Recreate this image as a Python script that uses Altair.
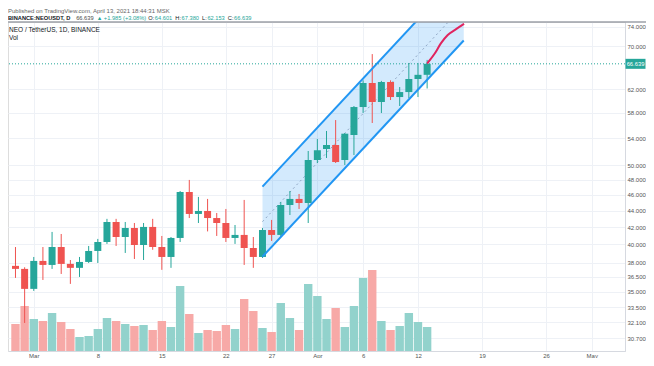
import altair as alt
import pandas as pd

# ---------------- data ----------------
dates = pd.date_range("2021-02-27", "2021-04-13", freq="D").strftime("%Y-%m-%d").tolist()
opens = [37.65, 37.33, 35.28, 38.18, 37.75, 39.71, 37.86, 37.44, 38.07, 39.27,
         40.28, 42.62, 40.85, 41.90, 39.94, 42.03, 39.71, 38.61, 40.74, 46.39,
         43.60, 43.97, 43.10, 42.50, 40.74, 41.09, 39.60, 38.61, 41.67, 41.09,
         44.72, 45.49, 44.97, 50.78, 52.38, 52.98, 50.78, 54.50, 58.98, 63.12,
         59.82, 63.30, 60.67, 61.53, 63.84, 64.601]
highs = [39.71, 37.50, 38.61, 39.71, 41.44, 41.20, 38.28, 38.61, 39.83, 40.63,
         43.00, 43.00, 42.62, 42.50, 42.50, 43.00, 40.97, 40.85, 46.52, 48.00,
         45.75, 45.49, 43.72, 44.22, 42.26, 45.36, 40.85, 41.90, 42.87, 45.10,
         46.52, 46.13, 52.09, 53.89, 55.12, 56.85, 54.80, 59.15, 63.60, 68.50,
         63.50, 63.60, 62.41, 66.80, 66.80, 67.380]
lows = [36.39, 32.04, 35.08, 36.18, 37.33, 36.80, 35.78, 36.49, 37.96, 37.96,
        40.06, 39.83, 39.05, 38.39, 38.28, 39.40, 37.23, 37.44, 40.28, 43.10,
        42.50, 41.50, 40.97, 40.28, 40.06, 37.75, 37.44, 38.50, 40.40, 40.85,
        43.47, 44.22, 42.50, 50.35, 51.07, 50.35, 50.07, 51.50, 58.00, 56.38,
        57.99, 60.16, 59.15, 60.50, 60.67, 62.153]
closes = [37.33, 35.28, 38.18, 37.75, 39.71, 37.86, 37.44, 38.07, 39.27, 40.28,
          42.62, 40.85, 41.90, 39.94, 42.03, 39.71, 38.61, 40.74, 46.39, 43.60,
          43.97, 43.10, 42.50, 40.74, 41.09, 39.60, 38.61, 41.67, 41.09, 44.72,
          45.49, 44.97, 50.78, 52.20, 52.98, 50.49, 54.70, 58.98, 63.12, 59.82,
          63.30, 60.67, 61.53, 63.84, 64.60, 66.639]
volumes = [2.7, 4.5, 3.2, 3.0, 3.8, 2.9, 2.2, 1.4, 1.5, 2.2,
           3.3, 3.0, 2.7, 2.5, 2.6, 2.1, 3.0, 2.4, 6.5, 3.7,
           1.8, 2.1, 2.0, 2.6, 2.2, 5.2, 4.0, 2.3, 1.9, 4.8,
           3.3, 2.1, 6.7, 5.5, 3.2, 4.3, 2.4, 4.5, 7.3, 8.1,
           3.0, 2.1, 2.5, 3.8, 2.9, 2.4]

# parallel channel (drawing)
channel_dates = ["2021-03-26", "2021-04-17"]
channel_lower = [38.64, 71.19]
channel_upper = [47.10, 86.80]
channel_mid = [42.66, 78.60]

# projected path (red line)
path_times = ["2021-04-13T00:00:00Z", "2021-04-13T20:00:00Z", "2021-04-14T12:00:00Z",
              "2021-04-15T06:00:00Z", "2021-04-16T04:00:00Z", "2021-04-17T01:00:00Z"]
path_values = [66.70, 68.60, 70.60, 72.30, 73.50, 74.60]

last_price = 66.639
price_ticks = [30.7, 32.1, 33.5, 35.0, 36.5, 38.0, 40.0, 42.0, 44.0, 46.0, 48.0,
               50.0, 54.0, 58.0, 62.0, 70.0, 74.0]
date_ticks = [(3, 1), (3, 8), (3, 15), (3, 22), (3, 27), (4, 1), (4, 6), (4, 12),
              (4, 19), (4, 26), (5, 1)]

published = "Published on TradingView.com, April 13, 2021 18:44:31 MSK"
legend_segments = [
    ("BINANCE:NEOUSDT, D", "#131722", "bold", 3.0),
    ("66.639", "#4a4a4a", "normal", 3.0),
    ("\u25b2 +1.985 (+3.08%)", "#26a69a", "normal", 3.0),
    ("O:", "#131722", "normal", 0.6), ("64.601", "#26a69a", "normal", 3.0),
    ("H:", "#131722", "normal", 0.6), ("67.380", "#26a69a", "normal", 3.0),
    ("L:", "#131722", "normal", 0.6), ("62.153", "#26a69a", "normal", 3.0),
    ("C:", "#131722", "normal", 0.6), ("66.639", "#26a69a", "normal", 0.0),
]
pane_title = "NEO / TetherUS, 1D, BINANCE"
vol_title = "Vol"

# ---------------- tables ----------------
df = pd.DataFrame({"date": dates, "open": opens, "high": highs, "low": lows,
                   "close": closes, "vol": volumes})
ch = pd.DataFrame({"date": channel_dates, "lower": channel_lower,
                   "upper": channel_upper, "mid": channel_mid})
fp = pd.DataFrame({"date": path_times, "v": path_values})
lp = pd.DataFrame({"p": [last_price], "t": [f"{last_price:.3f}"]})

FONT = "Liberation Sans"
UP, DOWN = "#26a69a", "#ef5350"
GRID = "#eef1f6"

xscale = alt.Scale(type="utc", domain=[
    alt.DateTime(year=2021, month=2, date=26, hours=17, minutes=30, utc=True),
    alt.DateTime(year=2021, month=5, date=4, hours=2, utc=True)])
xaxis = alt.Axis(values=[alt.DateTime(year=2021, month=m, date=d, utc=True) for m, d in date_ticks],
                 labelExpr="utcdate(datum.value) == 1 ? utcFormat(datum.value, '%b') : '' + utcdate(datum.value)",
                 title=None, ticks=False, labelPadding=1, labelFontSize=6, labelColor="#555",
                 labelBaseline="top", labelFont=FONT, grid=True, gridColor=GRID,
                 domainColor="#d6d9e0", labelFlush=False, labelOverlap=False)
yscale = alt.Scale(type="log", domain=[29.6, 75.0], nice=False)
yaxis = alt.Axis(orient="right", values=price_ticks, format=".3f", title=None, ticks=False,
                 labelPadding=2, labelFontSize=6, labelColor="#555", labelFont=FONT,
                 grid=True, gridColor=GRID, domainColor="#d6d9e0", labelOverlap=False,
                 labelFlush=False)


def X(field="date"):
    return alt.X(f"{field}:T", scale=xscale, axis=xaxis)


def Y(field):
    return alt.Y(f"{field}:Q", scale=yscale, axis=yaxis)


updown = alt.condition("datum.close >= datum.open", alt.value(UP), alt.value(DOWN))
updown_vol = alt.condition("datum.close >= datum.open", alt.value("#92d2cc"), alt.value("#f7a9a7"))

vol = alt.Chart(df).mark_bar(size=8.4).encode(
    x=X(), y=alt.Y("vol:Q", scale=alt.Scale(domain=[0, 32.9]), axis=None), color=updown_vol)

area = alt.Chart(ch).mark_area(color="#2196f3", opacity=0.2, clip=True).encode(
    x=X(), y=Y("upper"), y2="lower:Q")
lower_line = alt.Chart(ch).mark_line(color="#2196f3", strokeWidth=2, clip=True).encode(
    x=X(), y=Y("lower"))
upper_line = alt.Chart(ch).mark_line(color="#2196f3", strokeWidth=2, clip=True).encode(
    x=X(), y=Y("upper"))
mid_line = alt.Chart(ch).mark_line(color="#8fa6c4", strokeWidth=1, strokeDash=[2, 3], clip=True).encode(
    x=X(), y=Y("mid"))

wicks = alt.Chart(df).mark_rule(strokeWidth=1).encode(x=X(), y=Y("low"), y2="high:Q", color=updown)
bodies = alt.Chart(df).mark_bar(size=7).encode(x=X(), y=Y("open"), y2="close:Q", color=updown)

path = alt.Chart(fp).mark_line(color="#e0245e", strokeWidth=2, interpolate="monotone", clip=True).encode(
    x=X(), y=Y("v"))

price_rule = alt.Chart(lp).mark_rule(color=UP, strokeDash=[1, 2], strokeWidth=1).encode(y=Y("p"))
price_box = alt.Chart(lp).mark_rect(color=UP, height=10).encode(
    x=alt.value(617.5), x2=alt.value(637.5), y=Y("p"))
price_txt = alt.Chart(lp).mark_text(color="white", fontSize=5.8, font=FONT, align="center",
                                    baseline="middle").encode(x=alt.value(627.5), y=Y("p"), text="t:N")

price = alt.layer(area, mid_line, wicks, bodies, lower_line, upper_line, path,
                  price_rule, price_box, price_txt)
main = alt.layer(vol, price).resolve_scale(y="independent")

# approximate glyph widths (em) for laying out the legend line
W = {**{d: 0.556 for d in "0123456789"}, ".": 0.278, ":": 0.278, " ": 0.278, "+": 0.584,
     "(": 0.333, ")": 0.333, "%": 0.889, ",": 0.278, "O": 0.778, "H": 0.722, "L": 0.556,
     "C": 0.722, "\u25b2": 0.8, "B": 0.722, "I": 0.278, "N": 0.722, "A": 0.722, "E": 0.667,
     "U": 0.722, "S": 0.667, "D": 0.722, "T": 0.611}


def label(text, x, y, size=6, color="#131722", weight="normal"):
    return alt.Chart(pd.DataFrame({"t": [text]})).mark_text(
        align="left", baseline="alphabetic", fontSize=size, font=FONT, color=color,
        fontWeight=weight).encode(x=alt.value(x), y=alt.value(y), text="t:N")


LEG = 5.7
texts = [label(published, 0, -9, 6, "#666")]
cx = 0.0
for t, c, w, gap in legend_segments:
    texts.append(label(t, cx, -2, LEG, c, w))
    cx += sum(W.get(ch_, 0.6) for ch_ in t) * LEG * (1.04 if w == "bold" else 1.0) + gap
texts += [label(pane_title, 1, 9.5, 6.5, "#131722"), label(vol_title, 1, 18, 6.5, "#131722")]

chart = alt.layer(
    main, *texts,
    alt.Chart(lp).mark_rule(color="#9da1a8", strokeWidth=1.5).encode(
        x=alt.value(0), x2=alt.value(638), y=alt.value(0)),
).properties(
    width=617, height=329,
    autosize=alt.AutoSizeParams(type="none"),
    padding={"left": 0, "top": 14, "right": 21, "bottom": 7},
    background="white",
).configure_view(stroke=None).configure(font=FONT)

chart.save("out.html", embed_options={"renderer": "svg", "actions": False})
